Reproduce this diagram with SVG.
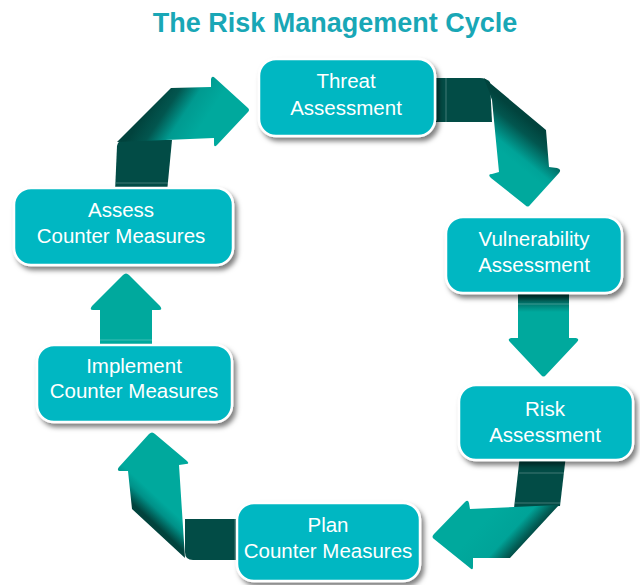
<svg xmlns="http://www.w3.org/2000/svg" width="640" height="585" viewBox="0 0 640 585">
  <defs>
    <style>
      .title { font-family: "Liberation Sans", Arial, Helvetica, sans-serif; font-size: 27px; font-weight: bold; fill: #19a7b6; }
      .box { fill: #00b7c2; stroke: #ffffff; stroke-width: 2.5; filter: url(#shadow); }
      .label { font-family: "Liberation Sans", Arial, Helvetica, sans-serif; font-size: 20.5px; fill: #ffffff; text-anchor: middle; }
      .back { fill: #024c46; }
      .teal { fill: #00a99d; }
      .seam { stroke: #ffffff; stroke-opacity: 0.25; stroke-width: 1; fill: none; }
    </style>
    <filter id="shadow" x="-10%" y="-20%" width="125%" height="150%">
      <feDropShadow dx="3" dy="4" stdDeviation="2.5" flood-color="#000000" flood-opacity="0.5"/>
    </filter>
    <linearGradient id="g1" gradientUnits="userSpaceOnUse" x1="150" y1="105" x2="195" y2="135">
      <stop offset="0" stop-color="#01433d"/>
      <stop offset="0.3" stop-color="#02564f"/>
      <stop offset="0.62" stop-color="#009a90"/>
      <stop offset="1" stop-color="#00a99d"/>
    </linearGradient>
    <linearGradient id="g2" gradientUnits="userSpaceOnUse" x1="515" y1="110" x2="489" y2="142">
      <stop offset="0" stop-color="#01433d"/>
      <stop offset="0.3" stop-color="#02564f"/>
      <stop offset="0.8" stop-color="#00a398"/>
      <stop offset="1" stop-color="#00a99d"/>
    </linearGradient>
    <linearGradient id="g3" gradientUnits="userSpaceOnUse" x1="0" y1="295" x2="0" y2="312">
      <stop offset="0" stop-color="#01433d"/>
      <stop offset="1" stop-color="#00a99d"/>
    </linearGradient>
    <linearGradient id="g4" gradientUnits="userSpaceOnUse" x1="490" y1="515" x2="530" y2="552">
      <stop offset="0" stop-color="#00a99d"/>
      <stop offset="0.5" stop-color="#00a398"/>
      <stop offset="0.72" stop-color="#02625a"/>
      <stop offset="0.85" stop-color="#01433d"/>
      <stop offset="1" stop-color="#01433d"/>
    </linearGradient>
    <linearGradient id="g5" gradientUnits="userSpaceOnUse" x1="158" y1="533" x2="183" y2="506">
      <stop offset="0" stop-color="#01433d"/>
      <stop offset="0.12" stop-color="#01433d"/>
      <stop offset="0.45" stop-color="#009188"/>
      <stop offset="0.7" stop-color="#00a99d"/>
      <stop offset="1" stop-color="#00a99d"/>
    </linearGradient>
  </defs>

  <rect width="640" height="585" fill="#ffffff"/>

  <text class="title" x="335" y="32" text-anchor="middle">The Risk Management Cycle</text>

  <!-- folded ribbon arrows between the steps -->
  <g id="connectors">
    <!-- Assess -> Threat -->
    <g id="arrow-assess-threat">
      <path class="back" d="M115,192 L117,146 Q118,140 124,140 L172,140 L167,192 Z"/>
      <path fill="url(#g1)" d="M117,142 L171,88 L211,87 L211,79 Q212,75 215,78 L248,108 Q250,110 248,112 L217,145 Q214,148 214,144 L214,138 Z"/>
      <line class="seam" x1="116" y1="183" x2="168" y2="183"/>
    </g>
    <!-- Threat -> Vulnerability -->
    <g id="arrow-threat-vuln">
      <path class="back" d="M430,78 L480,78 Q486,78 490,82 L492,122 L430,122 Z"/>
      <path fill="url(#g2)" d="M484,78 L546,130 L549,167 L557,168 Q562,169 559,173 L530,205 Q528,208 525,205 L491,178 Q487,174 492,174 L499,172 L492,100 Z"/>
      <line class="seam" x1="446" y1="78" x2="446" y2="122"/>
    </g>
    <!-- Vulnerability -> Risk -->
    <g id="arrow-vuln-risk">
      <path fill="url(#g3)" d="M518,290 L569,290 L569,338 L576,338 Q580,339 577,342 L546,375 Q543.5,378 541,375 L510,342 Q507,339 511,338 L518,338 Z"/>
      <line class="seam" x1="518" y1="304" x2="569" y2="304"/>
    </g>
    <!-- Risk -> Plan -->
    <g id="arrow-risk-plan">
      <path class="back" d="M520,455 L566,455 L560,506 L514,508 Z"/>
      <path fill="url(#g4)" d="M559,505 L510,558 L473,558 L473,567 Q473,571 470,568 L434,539 Q431,537 434,534 L465,502 Q468,499 469,503 L470,509 Z"/>
      <line class="seam" x1="519" y1="473" x2="564" y2="473"/>
      <line class="seam" x1="515" y1="503" x2="561" y2="503"/>
    </g>
    <!-- Plan -> Implement -->
    <g id="arrow-plan-impl">
      <path class="back" d="M240,519 L185,519 L185,552 Q185,560 193,560 L240,560 Z"/>
      <path fill="url(#g5)" d="M185,558 L132,509 L128,471 L121,471 Q116,471 119,467 L149,434 Q152,431 155,434 L187,461 Q190,464 186,464 L179,465 Z"/>
      <line class="seam" x1="235" y1="519" x2="235" y2="560"/>
    </g>
    <!-- Implement -> Assess -->
    <g id="arrow-impl-assess">
      <path class="teal" d="M100,348 L100,310 L93,310 Q89,310 92,306 L123,275 Q126,272 129,275 L160,306 Q163,310 159,310 L152,310 L152,348 Z"/>
      <line class="seam" x1="100" y1="340" x2="152" y2="340"/>
    </g>
  </g>

  <g id="node-threat">
    <rect class="box" x="259" y="59" width="176" height="77" rx="17"/>
    <text class="label" x="346" y="88">Threat</text>
    <text class="label" x="346" y="115">Assessment</text>
  </g>

  <g id="node-vulnerability">
    <rect class="box" x="446" y="217" width="176" height="76" rx="17"/>
    <text class="label" x="534" y="246">Vulnerability</text>
    <text class="label" x="534" y="272">Assessment</text>
  </g>

  <g id="node-risk">
    <rect class="box" x="459" y="385" width="174" height="75" rx="17"/>
    <text class="label" x="545" y="416">Risk</text>
    <text class="label" x="545" y="442">Assessment</text>
  </g>

  <g id="node-plan">
    <rect class="box" x="237" y="503" width="183" height="78" rx="17"/>
    <text class="label" x="328" y="532">Plan</text>
    <text class="label" x="328" y="558">Counter Measures</text>
  </g>

  <g id="node-implement">
    <rect class="box" x="37" y="345" width="195" height="77" rx="17"/>
    <text class="label" x="134" y="373">Implement</text>
    <text class="label" x="134" y="398">Counter Measures</text>
  </g>

  <g id="node-assess">
    <rect class="box" x="14" y="188" width="219" height="77" rx="17"/>
    <text class="label" x="121" y="217">Assess</text>
    <text class="label" x="121" y="243">Counter Measures</text>
  </g>
</svg>
